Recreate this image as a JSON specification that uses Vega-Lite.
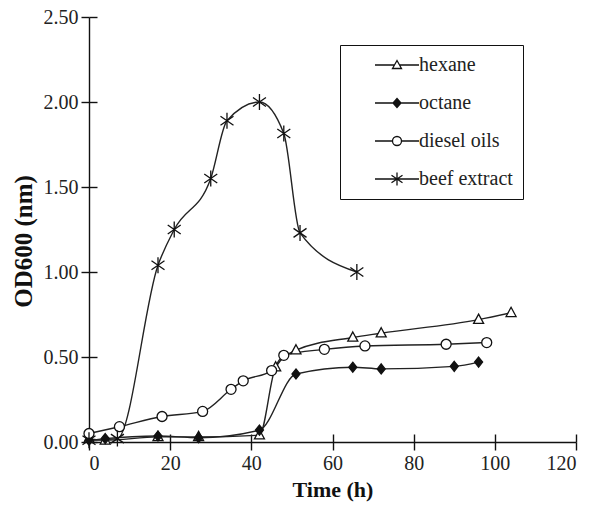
{
  "$schema": "https://vega.github.io/schema/vega-lite/v6.json",
  "width": 487,
  "height": 425,
  "autosize": "none",
  "padding": {"left": 89, "top": 17, "right": 24, "bottom": 70},
  "background": "white",
  "config": {
    "view": {"stroke": null},
    "font": "Liberation Serif",
    "axis": {"grid": false, "domainColor": "#111", "tickColor": "#111", "domainWidth": 1.4, "tickWidth": 1.4, "labelColor": "#222", "titleColor": "#111", "labelFont": "Liberation Serif", "titleFont": "Liberation Serif", "labelFontSize": 20, "titleFontSize": 22, "titleFontWeight": "bold"}
  },
  "data": {"values": [
    {"series": "hexane", "t": 0, "v": 0.02},
    {"series": "hexane", "t": 4, "v": 0.01},
    {"series": "hexane", "t": 17, "v": 0.03},
    {"series": "hexane", "t": 27, "v": 0.03},
    {"series": "hexane", "t": 42, "v": 0.04},
    {"series": "hexane", "t": 46, "v": 0.44},
    {"series": "hexane", "t": 51, "v": 0.54},
    {"series": "hexane", "t": 65, "v": 0.615},
    {"series": "hexane", "t": 72, "v": 0.64},
    {"series": "hexane", "t": 96, "v": 0.72},
    {"series": "hexane", "t": 104, "v": 0.76},
    {"series": "octane", "t": 0, "v": 0.01},
    {"series": "octane", "t": 4, "v": 0.02},
    {"series": "octane", "t": 17, "v": 0.035},
    {"series": "octane", "t": 27, "v": 0.025},
    {"series": "octane", "t": 42, "v": 0.07},
    {"series": "octane", "t": 51, "v": 0.40},
    {"series": "octane", "t": 65, "v": 0.44},
    {"series": "octane", "t": 72, "v": 0.43},
    {"series": "octane", "t": 90, "v": 0.445},
    {"series": "octane", "t": 96, "v": 0.47},
    {"series": "diesel oils", "t": 0, "v": 0.05},
    {"series": "diesel oils", "t": 7.5, "v": 0.09},
    {"series": "diesel oils", "t": 18, "v": 0.15},
    {"series": "diesel oils", "t": 28, "v": 0.18},
    {"series": "diesel oils", "t": 35, "v": 0.31},
    {"series": "diesel oils", "t": 38, "v": 0.36},
    {"series": "diesel oils", "t": 45, "v": 0.42},
    {"series": "diesel oils", "t": 48, "v": 0.51},
    {"series": "diesel oils", "t": 58, "v": 0.545},
    {"series": "diesel oils", "t": 68, "v": 0.565},
    {"series": "diesel oils", "t": 88, "v": 0.575},
    {"series": "diesel oils", "t": 98, "v": 0.585},
    {"series": "beef extract", "t": 0, "v": 0.01},
    {"series": "beef extract", "t": 7, "v": 0.02},
    {"series": "beef extract", "t": 17, "v": 1.04},
    {"series": "beef extract", "t": 21, "v": 1.25},
    {"series": "beef extract", "t": 30, "v": 1.55},
    {"series": "beef extract", "t": 34, "v": 1.89},
    {"series": "beef extract", "t": 42, "v": 2.0},
    {"series": "beef extract", "t": 48, "v": 1.815},
    {"series": "beef extract", "t": 52, "v": 1.23},
    {"series": "beef extract", "t": 66, "v": 1.0}
  ]},
  "resolve": {"axis": {"x": "independent", "y": "independent"}, "scale": {"shape": "independent"}},
  "layer": [
    {
      "mark": {"type": "line", "interpolate": "monotone", "color": "#222", "strokeWidth": 1.4},
      "encoding": {
        "x": {"field": "t", "type": "quantitative", "scale": {"domain": [0, 120], "nice": false},
              "axis": {"orient": "bottom", "title": "Time (h)", "values": [0, 20, 40, 60, 80, 100, 120], "tickSize": 8, "labelPadding": 3, "titlePadding": 6}},
        "y": {"field": "v", "type": "quantitative", "scale": {"domain": [0, 2.5], "nice": false},
              "axis": {"orient": "left", "title": "OD600 (nm)", "titleFontSize": 25, "titleY": 224, "values": [0, 0.5, 1, 1.5, 2, 2.5], "format": ".2f", "tickSize": 8, "labelPadding": 3, "titlePadding": 7}},
        "detail": {"field": "series"}
      }
    },
    {
      "mark": {"type": "point", "filled": false, "color": "#111", "strokeWidth": 1.3, "opacity": 1},
      "encoding": {
        "x": {"field": "t", "type": "quantitative",
              "axis": {"orient": "bottom", "title": null, "labels": false, "domain": false, "values": [0, 20, 40, 60, 80, 100, 120], "tickSize": 8, "offset": -8}},
        "y": {"field": "v", "type": "quantitative",
              "axis": {"orient": "left", "title": null, "labels": false, "domain": false, "values": [0, 0.5, 1, 1.5, 2, 2.5], "tickSize": 8, "offset": -8}},
        "shape": {"field": "series", "type": "nominal", "legend": null,
          "scale": {"domain": ["hexane", "octane", "diesel oils", "beef extract"],
                    "range": ["M0,-1.1L1,0.75L-1,0.75Z", "M0,-1L0.8,0L0,1L-0.8,0Z", "circle", "M0,-1.6V1.6M-1.3,-0.9L1.3,0.9M-1.3,0.9L1.3,-0.9"]}},
        "fill": {"field": "series", "type": "nominal", "legend": null,
          "scale": {"domain": ["hexane", "octane", "diesel oils", "beef extract"], "range": ["white", "#111", "white", "#111"]}},
        "size": {"value": 100}
      }
    },
    {
      "transform": [{"filter": "datum.t < 0"}],
      "mark": {"type": "point", "filled": false, "color": "#111", "strokeWidth": 1.3, "opacity": 1},
      "encoding": {
        "x": {"field": "t", "type": "quantitative", "axis": null},
        "y": {"field": "v", "type": "quantitative", "axis": null},
        "shape": {"field": "series", "type": "nominal", "title": null,
          "scale": {"domain": ["hexane", "octane", "diesel oils", "beef extract"],
                    "range": ["M3,0H6.9M7.9,0H11.8M7.4,-0.9L8.3,0.7L6.5,0.7Z", "M3,0H11.8M7.4,-0.9L8.2,0L7.4,0.9L6.6,0ZM7.4,-0.6L7.93,0L7.4,0.6L6.87,0ZM7.4,-0.3L7.67,0L7.4,0.3L7.13,0Z", "M3,0H6.5M8.3,0H11.8M6.5,0A0.9,0.9 0 1,1 8.3,0A0.9,0.9 0 1,1 6.5,0Z", "M3,0H11.8M7.4,-1.3V1.3M6.3,-0.75L8.5,0.75M6.3,0.75L8.5,-0.75"]},
          "legend": {
            "orient": "none", "legendX": 251, "legendY": 28,
            "strokeColor": "#111", "fillColor": "white", "padding": 10,
            "labelFont": "Liberation Serif", "labelFontSize": 20, "labelColor": "#222",
            "labelOffset": 49, "rowPadding": 18, "symbolStrokeColor": "#111", "symbolStrokeWidth": 1.3, "symbolSize": 100
          }},
        "size": {"value": 100}
      }
    }
  ]
}
